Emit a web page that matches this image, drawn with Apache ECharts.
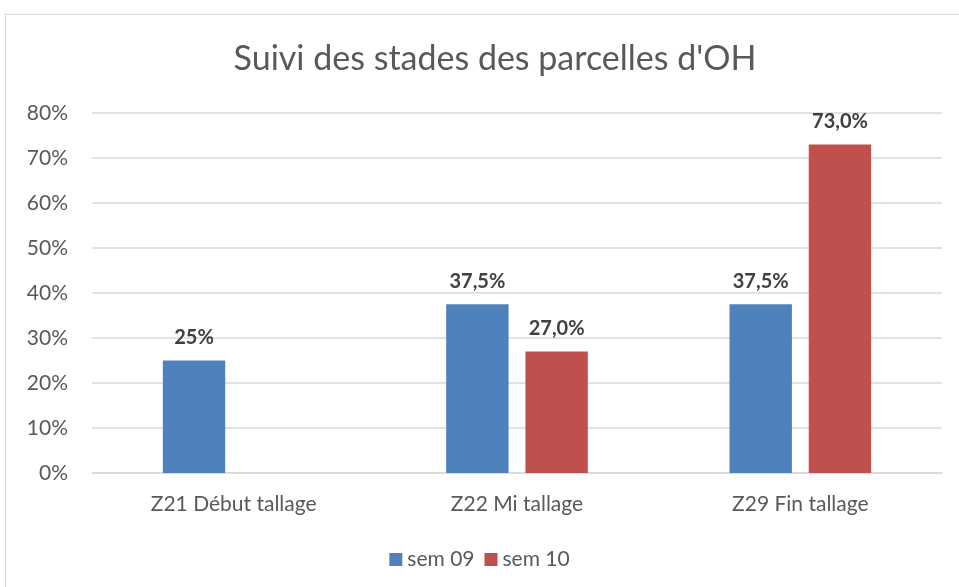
<!DOCTYPE html>
<html>
<head>
<meta charset="utf-8">
<script src="https://cdn.jsdelivr.net/npm/echarts@6/dist/echarts.min.js"></script>
<style>
    html, body { margin: 0; padding: 0; background: #fff; }
    #frame { position: absolute; left: 5px; top: 14px; width: 970px; height: 590px; border: 1px solid #d9d9d9; }
    #chart { position: absolute; left: 0; top: 0; width: 959px; height: 587px; }
</style>
</head>
<body>
<div id="frame"></div>
<div id="chart"></div>
<script>
var categories = ['Z21 Début tallage', 'Z22 Mi tallage', 'Z29 Fin tallage'];
var sem09 = [25, 37.5, 37.5];
var sem10 = [null, 27.0, 73.0];
var yTicks = [0, 10, 20, 30, 40, 50, 60, 70, 80];

var font = 'Lato, "Noto Sans", sans-serif';

// sem 09 : pas de décimale inutile, sem 10 : une décimale
function fmtShort(v) { return String(v).replace('.', ',') + '%'; }
function fmtFixed(v) { return v.toFixed(1).replace('.', ',') + '%'; }

var myChart = echarts.init(document.getElementById('chart'));
var option = {
    animation: false,
    textStyle: { fontFamily: font },
    title: {
        text: "Suivi des stades des parcelles d'OH",
        left: 490,
        top: 37,
        textAlign: 'center',
        textStyle: { fontFamily: font, fontSize: 34, fontWeight: 'normal', color: '#595959' }
    },
    legend: {
        bottom: 12,
        left: 'center',
        itemWidth: 13,
        itemHeight: 13,
        itemGap: 10,
        icon: 'rect',
        textStyle: { fontFamily: font, fontSize: 21, color: '#595959' },
        data: ['sem 09', 'sem 10']
    },
    grid: { left: 92, right: 17, top: 113, bottom: 114, containLabel: false },
    xAxis: {
        type: 'category',
        data: categories,
        axisLine: { lineStyle: { color: '#d9d9d9', width: 1.5 } },
        axisTick: { show: false },
        axisLabel: { fontFamily: font, fontSize: 21, color: '#595959', margin: 21 }
    },
    yAxis: {
        type: 'value',
        min: yTicks[0],
        max: yTicks[yTicks.length - 1],
        interval: 10,
        axisLine: { show: false },
        axisTick: { show: false },
        splitLine: { lineStyle: { color: '#d9d9d9', width: 1.5 } },
        axisLabel: { fontFamily: font, fontSize: 21, color: '#595959', margin: 24, formatter: '{value}%' }
    },
    series: [{
        name: 'sem 09',
        type: 'bar',
        data: sem09,
        barGap: '27%',
        barCategoryGap: '50%',
        itemStyle: { color: '#4F81BD' },
        label: {
            show: true, position: 'top', distance: 13,
            fontFamily: font, fontSize: 20, fontWeight: 'bold', color: '#404040',
            formatter: function (p) { return fmtShort(p.value); }
        }
    }, {
        name: 'sem 10',
        type: 'bar',
        data: sem10,
        itemStyle: { color: '#C0504D' },
        label: {
            show: true, position: 'top', distance: 13,
            fontFamily: font, fontSize: 20, fontWeight: 'bold', color: '#404040',
            formatter: function (p) { return p.value == null ? '' : fmtFixed(p.value); }
        }
    }]
};
myChart.setOption(option);
</script>
</body>
</html>
